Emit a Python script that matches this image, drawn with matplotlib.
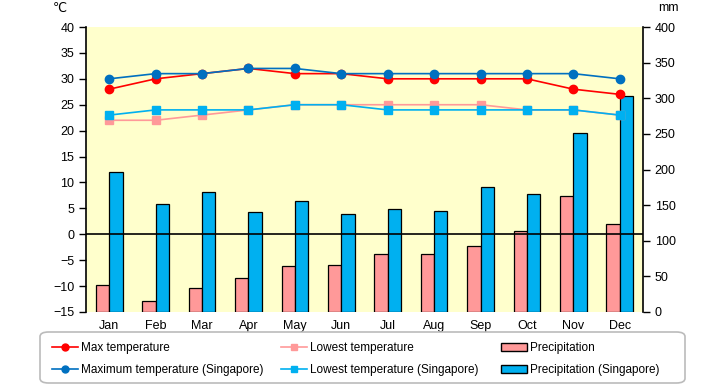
import numpy as np
import matplotlib.pyplot as plt
from matplotlib.patches import Patch, FancyBboxPatch
from matplotlib.lines import Line2D

months = ['Jan', 'Feb', 'Mar', 'Apr', 'May', 'Jun',
          'Jul', 'Aug', 'Sep', 'Oct', 'Nov', 'Dec']

max_temp = [28, 30, 31, 32, 31, 31, 30, 30, 30, 30, 28, 27]
low_temp = [22, 22, 23, 24, 25, 25, 25, 25, 25, 24, 24, 23]
precip = [38, 16, 34, 48, 65, 66, 81, 82, 93, 113, 163, 124]

max_temp_sg = [30, 31, 31, 32, 32, 31, 31, 31, 31, 31, 31, 30]
low_temp_sg = [23, 24, 24, 24, 25, 25, 24, 24, 24, 24, 24, 23]
precip_sg = [197, 152, 169, 140, 156, 138, 144, 142, 176, 166, 251, 303]

plt.rcParams['font.family'] = ['Liberation Sans', 'DejaVu Sans']

fig = plt.figure(figsize=(7.2, 3.85), dpi=100)
ax = fig.add_axes([86 / 720, 1 - 312 / 385, 557 / 720, 285 / 385])
ax2 = ax.twinx()

x = np.arange(len(months))
w = 0.287

# bars on the mm axis (behind)
ax2.bar(x - w / 2, precip, w, color='#FF9999', edgecolor='black', linewidth=0.9, zorder=2)
ax2.bar(x + w / 2, precip_sg, w, color='#00B0F0', edgecolor='black', linewidth=0.9, zorder=2)
ax2.set_ylim(0, 400)
ax2.set_yticks(range(0, 401, 50))

# temperature lines drawn on top
ax.set_zorder(ax2.get_zorder() + 1)
ax.patch.set_visible(False)
ax2.patch.set_visible(True)
ax2.patch.set_facecolor('#FFFFCC')

ax.axhline(0, color='black', lw=1.2, zorder=3)
ax.plot(x, max_temp, color='#FF0000', marker='o', ms=6, lw=1.2, zorder=4)
ax.plot(x, low_temp, color='#FF9999', marker='s', ms=6, lw=1.2, zorder=4)
ax.plot(x, max_temp_sg, color='#0070C0', marker='o', ms=6, lw=1.2, zorder=5)
ax.plot(x, low_temp_sg, color='#00B0F0', marker='s', ms=6, lw=1.2, zorder=5)

ax.set_ylim(-15, 40)
ax.set_yticks(range(-15, 41, 5))
ax.set_xlim(-0.5, 11.5)
ax.set_xticks(x)
ax.set_xticklabels(months)

for a in (ax, ax2):
    for s in a.spines.values():
        s.set_visible(False)
ax.spines['left'].set_visible(True)
ax2.spines['right'].set_visible(True)
ax.spines['left'].set_linewidth(1.2)
ax2.spines['right'].set_linewidth(1.2)

ax.tick_params(axis='x', length=0, labelsize=9, pad=6)
ax.tick_params(axis='y', length=5, width=1, labelsize=9, direction='out')
ax2.tick_params(axis='y', length=5, width=1, labelsize=9, direction='out')

fig.text(60 / 720, 1 - 8 / 385, '℃', fontsize=9, ha='center', va='center',
         family=['DejaVu Sans'])
fig.text(668 / 720, 1 - 8 / 385, 'mm', fontsize=9, ha='center', va='center')

# legend frame
frame = FancyBboxPatch((40 / 720, 1 - 383 / 385), 645 / 720, 51 / 385,
                       boxstyle='round,pad=0,rounding_size=0.012',
                       transform=fig.transFigure, facecolor='white',
                       edgecolor='#BBBBBB', linewidth=1.2)
fig.patches.append(frame)

columns = [
    (52, [Line2D([], [], color='#FF0000', marker='o', ms=5, lw=1.2),
          Line2D([], [], color='#0070C0', marker='o', ms=5, lw=1.2)],
     ['Max temperature', 'Maximum temperature (Singapore)']),
    (281, [Line2D([], [], color='#FF9999', marker='s', ms=5, lw=1.2),
           Line2D([], [], color='#00B0F0', marker='s', ms=5, lw=1.2)],
     ['Lowest temperature', 'Lowest temperature (Singapore)']),
    (501, [Patch(facecolor='#FF9999', edgecolor='black'),
           Patch(facecolor='#00B0F0', edgecolor='black')],
     ['Precipitation', 'Precipitation (Singapore)']),
]
for xpos, hs, ls in columns:
    leg = fig.legend(hs, ls, loc='center left',
                     bbox_to_anchor=(xpos / 720, 1 - 359 / 385),
                     fontsize=8.5, frameon=False, borderpad=0, borderaxespad=0,
                     handlelength=2.2, handletextpad=0.25, labelspacing=0.85)

fig.savefig('out.png', dpi=100)
